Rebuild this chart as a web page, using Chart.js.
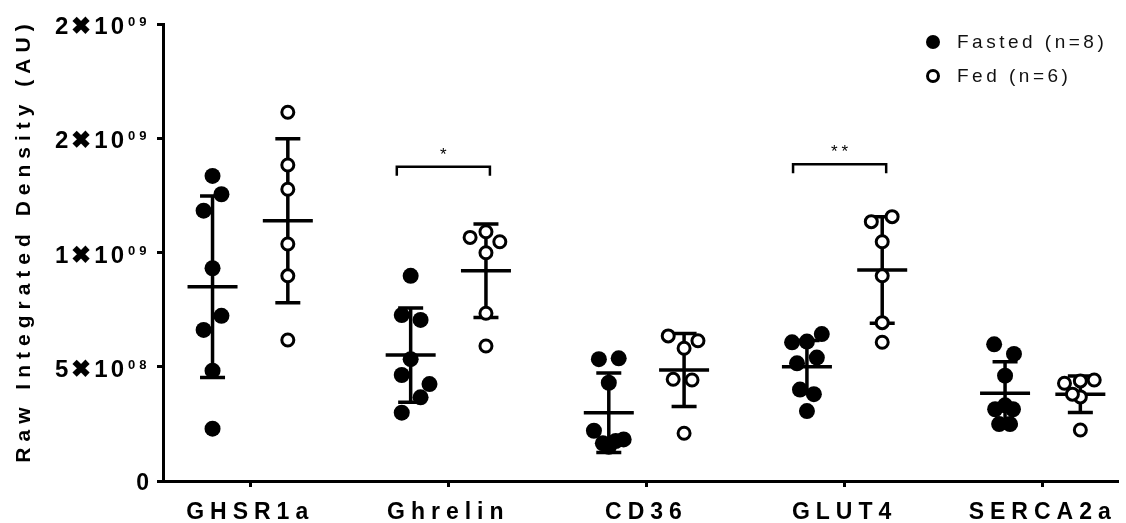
<!DOCTYPE html>
<html>
<head>
<meta charset="utf-8">
<script src="https://cdn.jsdelivr.net/npm/chart.js@4.4.1/dist/chart.umd.min.js"></script>
<style>
  html, body { margin: 0; padding: 0; background: #fff; }
  #wrap { width: 1126px; height: 523px; position: relative; }
</style>
</head>
<body>
<div id="wrap"><canvas id="main-canvas"></canvas></div>
<script>
// categories and series
const categories = ['GHSR1a', 'Ghrelin', 'CD36', 'GLUT4', 'SERCA2a'];
const seriesLabels = ['Fasted (n=8)', 'Fed (n=6)'];
const yTitle = 'Raw Integrated Density (AU)';

// individual values
const fastedValues = [
    [1.335e9, 1.255e9, 1.183e9, 0.931e9, 0.723e9, 0.661e9, 0.483e9, 0.229e9],
    [0.898e9, 0.726e9, 0.705e9, 0.533e9, 0.464e9, 0.424e9, 0.366e9, 0.299e9],
    [0.533e9, 0.537e9, 0.430e9, 0.220e9, 0.165e9, 0.150e9, 0.182e9, 0.175e9],
    [0.607e9, 0.610e9, 0.643e9, 0.515e9, 0.540e9, 0.400e9, 0.380e9, 0.306e9],
    [0.598e9, 0.556e9, 0.461e9, 0.314e9, 0.314e9, 0.249e9, 0.249e9, 0.331e9]
];
const fedValues = [
    [1.614e9, 1.383e9, 1.277e9, 1.037e9, 0.898e9, 0.617e9],
    [1.091e9, 1.066e9, 1.047e9, 0.999e9, 0.734e9, 0.591e9],
    [0.635e9, 0.581e9, 0.614e9, 0.445e9, 0.442e9, 0.209e9],
    [1.135e9, 1.157e9, 1.047e9, 0.898e9, 0.693e9, 0.607e9],
    [0.428e9, 0.442e9, 0.438e9, 0.368e9, 0.380e9, 0.223e9]
];
// horizontal scatter of each dot inside its column (category units)
const fastedJitter = [
    [0, 0.045, -0.045, 0, 0.045, -0.045, 0, 0],
    [0, -0.045, 0.05, 0, -0.045, 0.095, 0.05, -0.045],
    [-0.05, 0.05, 0, -0.075, -0.03, 0, 0.075, 0.035],
    [-0.075, 0, 0.075, -0.05, 0.05, -0.035, 0.035, 0],
    [-0.055, 0.045, 0, -0.05, 0.04, -0.03, 0.025, 0]
];
const fedJitter = [
    [0, 0, 0, 0, 0, 0],
    [0, -0.08, 0.07, 0, 0, 0],
    [-0.08, 0, 0.07, -0.055, 0.04, 0],
    [-0.055, 0.05, 0, 0, 0, 0],
    [-0.08, 0.07, 0, 0, -0.04, 0]
];

// mean +/- SD
const fastedMean = [0.850e9, 0.551e9, 0.299e9, 0.500e9, 0.384e9];
const fastedSD   = [0.397e9, 0.206e9, 0.174e9, 0.115e9, 0.138e9];
const fedMean    = [1.139e9, 0.920e9, 0.486e9, 0.923e9, 0.380e9];
const fedSD      = [0.359e9, 0.205e9, 0.160e9, 0.233e9, 0.080e9];

// significance
const sigCategory = [1, 3];
const sigLabels = ['*', '**'];
const sigLevel = [1.375e9, 1.386e9];

// y ticks
const yTickValues = [0, 5e8, 1e9, 1.5e9, 2e9];
const yTickMain = ['0', '5\u271610', '1\u271610', '2\u271610', '2\u271610'];
const yTickExp = ['', '08', '09', '09', '09'];

const COL_OFF = 0.19;
const FONT = "'Liberation Sans', Arial, sans-serif";

function buildPoints(values, jitter, off) {
    let pts = [];
    values.forEach((row, i) => {
        row.forEach((v, j) => pts.push({ x: i + off + jitter[i][j], y: v }));
    });
    return pts;
}

function drawBar(ctx, xs, ys, x, mean, sd) {
    const px = xs.getPixelForValue(x);
    const pm = ys.getPixelForValue(mean);
    const pt = ys.getPixelForValue(mean + sd);
    const pb = ys.getPixelForValue(mean - sd);
    ctx.beginPath();
    ctx.moveTo(px, pt); ctx.lineTo(px, pb);
    ctx.moveTo(px - 12.5, pt); ctx.lineTo(px + 12.5, pt);
    ctx.moveTo(px - 12.5, pb); ctx.lineTo(px + 12.5, pb);
    ctx.moveTo(px - 25, pm); ctx.lineTo(px + 25, pm);
    ctx.stroke();
}

const marks = {
    id: 'marks',
    beforeDraw: chart => {
        // spaced-out lettering like the original export
        chart.ctx.letterSpacing = '6px';
    },
    beforeDatasetsDraw: chart => {
        const ctx = chart.ctx, xs = chart.scales.x, ys = chart.scales.y;
        ctx.save();
        ctx.strokeStyle = '#000';
        ctx.lineWidth = 3.5;
        categories.forEach((c, i) => {
            drawBar(ctx, xs, ys, i - COL_OFF, fastedMean[i], fastedSD[i]);
            drawBar(ctx, xs, ys, i + COL_OFF, fedMean[i], fedSD[i]);
        });
        ctx.restore();
    },
    afterDraw: chart => {
        const ctx = chart.ctx, xs = chart.scales.x, ys = chart.scales.y;
        ctx.save();
        ctx.fillStyle = '#000';

        // y tick labels with superscript exponent
        yTickValues.forEach((v, i) => {
            const py = ys.getPixelForValue(v);
            if (yTickExp[i]) {
                ctx.font = 'bold 13px ' + FONT;
                ctx.letterSpacing = '4px';
                ctx.textAlign = 'left';
                ctx.textBaseline = 'alphabetic';
                ctx.fillText(yTickExp[i], 128, py + 2);
                ctx.font = 'bold 24px ' + FONT;
                ctx.letterSpacing = '3px';
                ctx.textAlign = 'right';
                ctx.fillText(yTickMain[i], 127, py + 10);
            } else {
                ctx.font = 'bold 23px ' + FONT;
                ctx.letterSpacing = '0px';
                ctx.textAlign = 'right';
                ctx.textBaseline = 'alphabetic';
                ctx.fillText(yTickMain[i], 149, py + 9);
            }
        });

        // y title
        ctx.save();
        ctx.translate(30, (chart.chartArea.top + chart.chartArea.bottom) / 2 - 12);
        ctx.rotate(-Math.PI / 2);
        ctx.font = 'bold 21px ' + FONT;
        ctx.letterSpacing = '6px';
        ctx.textAlign = 'center';
        ctx.textBaseline = 'alphabetic';
        ctx.fillText(yTitle, 0, 0);
        ctx.restore();

        // significance brackets
        ctx.lineWidth = 2.5;
        ctx.strokeStyle = '#000';
        sigCategory.forEach((c, k) => {
            const x1 = xs.getPixelForValue(c - 0.26);
            const x2 = xs.getPixelForValue(c + 0.21);
            const y = ys.getPixelForValue(sigLevel[k]);
            ctx.beginPath();
            ctx.moveTo(x1, y + 9); ctx.lineTo(x1, y); ctx.lineTo(x2, y); ctx.lineTo(x2, y + 9);
            ctx.stroke();
            ctx.font = '17px ' + FONT;
            ctx.letterSpacing = '4px';
            ctx.textAlign = 'center';
            ctx.textBaseline = 'middle';
            ctx.fillText(sigLabels[k], (x1 + x2) / 2 + 2, y - 12);
        });

        // legend
        const lx = 933, ly = [42, 76];
        ctx.beginPath();
        ctx.arc(lx, ly[0], 7, 0, Math.PI * 2);
        ctx.fill();
        ctx.beginPath();
        ctx.arc(lx, ly[1], 5.5, 0, Math.PI * 2);
        ctx.fillStyle = '#fff';
        ctx.fill();
        ctx.lineWidth = 3;
        ctx.stroke();
        ctx.fillStyle = '#111';
        ctx.font = '19px ' + FONT;
        ctx.letterSpacing = '3.5px';
        ctx.textAlign = 'left';
        ctx.textBaseline = 'middle';
        seriesLabels.forEach((s, i) => ctx.fillText(s, 957, ly[i] + 1));

        ctx.restore();
    }
};

document.addEventListener('DOMContentLoaded', () => {
    const mainCanvas = document.getElementById('main-canvas');
    const ctx = mainCanvas.getContext('2d');

    new Chart(ctx, {
        type: 'scatter',
        plugins: [marks],
        data: {
            datasets: [{
                label: seriesLabels[0],
                data: buildPoints(fastedValues, fastedJitter, -COL_OFF),
                pointStyle: 'circle',
                radius: 8,
                borderWidth: 0,
                backgroundColor: '#000',
                borderColor: '#000'
            },
            {
                label: seriesLabels[1],
                data: buildPoints(fedValues, fedJitter, COL_OFF),
                pointStyle: 'circle',
                radius: 6,
                borderWidth: 3,
                backgroundColor: '#fff',
                borderColor: '#000'
            }]
        },
        options: {
            responsive: true,
            maintainAspectRatio: false,
            animation: false,
            layout: { padding: { top: 24, right: 0, bottom: 0, left: 0 } },
            plugins: {
                legend: { display: false },
                tooltip: { enabled: false }
            },
            scales: {
                x: {
                    type: 'linear',
                    min: -0.44,
                    max: 4.375,
                    afterBuildTicks: axis => axis.ticks = categories.map((c, i) => ({ value: i })),
                    afterFit: s => { s.height = 42; },
                    ticks: {
                        autoSkip: false,
                        maxRotation: 0,
                        padding: 12,
                        color: '#000',
                        font: { family: FONT, size: 23, weight: 'bold' },
                        callback: v => categories[v] ?? ''
                    },
                    grid: { drawOnChartArea: false, drawTicks: true, tickLength: 6, color: '#000', lineWidth: 3 },
                    border: { color: '#000', width: 3 }
                },
                y: {
                    min: 0,
                    max: 2e9,
                    afterBuildTicks: axis => axis.ticks = yTickValues.map(v => ({ value: v })),
                    afterFit: s => { s.width = 163; },
                    ticks: { callback: () => '' },
                    grid: { drawOnChartArea: false, drawTicks: true, tickLength: 6, color: '#000', lineWidth: 3 },
                    border: { color: '#000', width: 3 }
                }
            }
        }
    });
});
</script>
</body>
</html>
